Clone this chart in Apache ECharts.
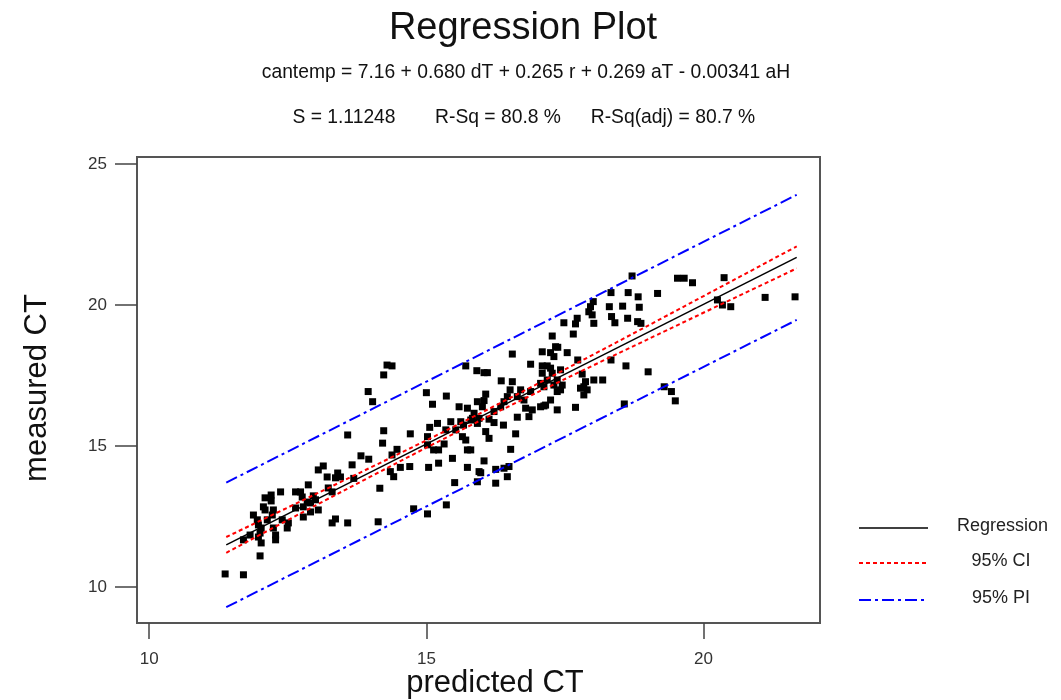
<!DOCTYPE html>
<html>
<head>
<meta charset="utf-8">
<title>Regression Plot</title>
<script src="https://cdn.jsdelivr.net/npm/echarts@6/dist/echarts.min.js"></script>
<style>
  html, body { margin: 0; padding: 0; background: #fff; }
  #chart { width: 1061px; height: 700px; }
</style>
</head>
<body>
<div id="chart"></div>
<script>
// Observed data: predicted vs measured can temperature
const predictedCT = [
  11.37,11.70,12.00,11.70,11.82,11.88,11.95,11.97,12.00,11.97,
  12.02,12.02,12.06,12.09,12.13,12.09,12.20,12.20,12.24,12.22,
  12.24,12.28,12.28,12.37,12.40,12.49,12.51,12.64,12.73,12.76,
  12.64,12.78,12.78,12.85,12.91,12.87,12.91,12.96,13.00,13.05,
  13.05,13.21,13.23,13.30,13.40,13.45,13.36,13.30,13.36,13.58,
  13.14,
  14.29,14.38,14.23,13.95,14.03,15.00,15.36,15.11,15.59,15.74,
  15.92,15.91,15.71,13.58,14.23,14.21,14.71,15.06,15.20,15.44,
  15.62,15.67,15.80,15.95,15.02,15.35,15.53,15.65,15.71,15.74,
  15.80,15.32,15.13,15.22,15.02,14.47,14.38,13.82,13.96,14.53,
  14.70,15.04,15.22,15.47,15.74,15.95,15.51,13.66,13.69,14.35,
  14.41,14.16,
  17.27,17.33,17.09,17.24,16.55,16.88,17.09,17.18,17.24,17.09,
  17.27,16.04,16.10,16.35,16.55,16.51,16.46,16.07,16.04,16.01,
  16.40,16.34,16.22,16.70,16.64,16.88,16.76,17.06,17.12,17.30,
  17.36,17.24,17.15,17.36,16.79,16.91,16.85,16.64,17.06,15.86,
  15.83,15.92,16.13,16.22,16.07,16.13,16.39,16.61,16.52,16.04,
  15.98,16.25,16.40,16.49,16.46,16.25,15.92,
  18.33,18.64,18.82,19.17,18.01,17.96,17.93,17.99,18.30,18.54,
  18.84,18.34,18.40,18.63,18.81,18.87,18.02,17.72,17.69,17.48,
  17.65,17.37,17.54,17.30,17.73,17.42,18.33,18.60,19.00,17.81,
  18.02,18.18,17.87,17.84,17.90,17.84,17.78,17.45,17.42,17.36,
  17.18,17.12,17.69,18.57,
  19.53,19.65,19.80,20.37,20.25,20.34,20.49,21.11,21.65,19.29,
  19.42,19.49,
  18.71,14.77,15.02,15.36,14.13
];
const measuredCT = [
  10.46,10.43,11.10,11.67,11.84,12.55,12.38,12.20,11.91,11.77,
  12.09,11.56,12.84,12.73,12.38,13.16,13.26,13.05,12.73,12.55,
  12.09,11.84,11.67,13.37,12.38,12.09,12.27,13.37,13.37,13.19,
  12.80,12.84,12.48,13.01,12.98,13.62,12.66,13.23,13.09,12.73,
  14.15,13.90,13.51,13.37,14.04,13.90,13.87,12.27,12.41,12.27,
  14.29,
  17.87,17.84,17.52,16.93,16.57,16.89,16.77,16.48,16.39,16.34,
  16.57,17.67,17.84,15.39,15.54,15.10,15.43,15.66,15.80,15.86,
  15.86,15.74,15.92,15.98,15.33,15.57,15.57,15.33,15.21,14.86,
  14.86,15.07,14.86,14.86,15.04,14.88,14.68,14.65,14.53,14.24,
  14.27,14.24,14.39,14.56,14.24,14.09,13.70,14.33,13.85,14.09,
  13.91,13.50,
  18.90,18.52,18.34,18.31,18.26,17.90,17.84,17.84,17.76,17.58,
  17.58,17.60,17.60,17.31,17.28,16.99,16.75,16.84,16.61,16.39,
  16.57,16.39,16.22,16.99,16.75,16.93,16.63,17.22,17.10,17.16,
  16.93,16.63,16.45,16.28,16.34,16.28,16.04,16.02,16.39,16.16,
  15.98,15.80,15.95,15.83,15.51,15.27,15.74,15.43,14.88,14.47,
  14.05,14.17,14.21,14.27,13.91,13.68,13.73,
  20.44,20.44,20.29,20.41,20.12,19.94,19.76,19.65,19.94,19.96,
  19.92,19.59,19.37,19.53,19.41,19.35,19.35,19.53,19.33,19.37,
  18.97,18.50,18.31,18.17,18.05,17.70,18.05,17.84,17.63,17.55,
  17.34,17.34,17.28,17.10,16.99,16.81,17.05,17.16,16.99,17.34,
  17.34,16.42,16.37,16.49,
  20.95,20.95,20.79,20.97,20.18,20.00,19.94,20.27,20.29,17.10,
  16.93,16.60,
  21.03,12.77,12.59,12.91,12.31
];

// Fitted line, 95% confidence band and 95% prediction band
const fitX = [11.39, 21.68];
const fitY = [11.49, 21.69];
const ciX = [11.39, 13, 15, 16, 17, 19, 21.68];
const ciLower = [11.21, 12.89, 14.94, 15.93, 16.90, 18.79, 21.30];
const ciUpper = [11.77, 13.29, 15.20, 16.19, 17.20, 19.27, 22.08];
const piX = [11.39, 21.68];
const piLower = [9.28, 19.47];
const piUpper = [13.70, 23.91];

// Axis ranges and tick labels
const xRange = [9.78, 22.1];
const yRange = [8.72, 25.25];
const xTicks = [10, 15, 20];
const yTicks = [10, 15, 20, 25];

const FONT = '"Liberation Sans", Arial, sans-serif';
const zip = (a, b) => a.map((v, i) => [v, b[i]]);

const chart = echarts.init(document.getElementById('chart'), null, { renderer: 'canvas' });

const ciStyle = { color: '#ff0000', width: 2, type: [4, 3] };
const piStyle = { color: '#0000ff', width: 2, type: [12, 4, 3, 4] };

const legendItems = [
  { y: 528, name: 'Regression', style: { stroke: '#000', lineWidth: 1.5 }, tx: 957, align: 'left' },
  { y: 563, name: '95% CI', style: { stroke: '#ff0000', lineWidth: 2, lineDash: [4, 3] }, tx: 1001, align: 'center' },
  { y: 600, name: '95% PI', style: { stroke: '#0000ff', lineWidth: 2, lineDash: [12, 4, 3, 4] }, tx: 1001, align: 'center' }
];

function text(x, y, str, size, opts) {
  opts = opts || {};
  return {
    type: 'text',
    x: x, y: y,
    rotation: opts.rotation || 0,
    silent: true,
    style: {
      text: str,
      fill: opts.color || '#111',
      font: size + 'px ' + FONT,
      textAlign: opts.align || 'center',
      textVerticalAlign: 'middle',
      align: opts.align || 'center',
      verticalAlign: 'middle'
    }
  };
}

const graphics = [
  text(523, 29, 'Regression Plot', 38),
  text(526, 73, 'cantemp = 7.16 + 0.680 dT + 0.265 r + 0.269 aT - 0.00341 aH', 19.3),
  text(344, 118, 'S = 1.11248', 19.3),
  text(498, 118, 'R-Sq = 80.8 %', 19.3),
  text(673, 118, 'R-Sq(adj) = 80.7 %', 19.3),
  text(495, 683, 'predicted CT', 31),
  text(37, 388, 'measured CT', 31, { rotation: Math.PI / 2 })
];
legendItems.forEach(function (it) {
  graphics.push({
    type: 'line', silent: true,
    shape: { x1: 859, y1: it.y, x2: 928, y2: it.y },
    style: it.style
  });
  graphics.push(text(it.tx, it.y - 2, it.name, 18, { align: it.align, color: '#222' }));
});

chart.setOption({
  animation: false,
  backgroundColor: '#fff',
  grid: {
    left: 137, top: 157, width: 683, height: 466,
    show: true, borderColor: '#555', borderWidth: 2, backgroundColor: 'transparent'
  },
  xAxis: {
    type: 'value', min: xRange[0], max: xRange[1],
    axisLine: { show: true, onZero: false, lineStyle: { color: '#555', width: 2 } },
    axisTick: { show: true, inside: false, length: 16, customValues: xTicks, lineStyle: { color: '#444', width: 1.5 } },
    axisLabel: { customValues: xTicks, margin: 28, fontSize: 17, fontFamily: FONT, color: '#333' },
    splitLine: { show: false }
  },
  yAxis: {
    type: 'value', min: yRange[0], max: yRange[1],
    axisLine: { show: true, onZero: false, lineStyle: { color: '#555', width: 2 } },
    axisTick: { show: true, inside: false, length: 22, customValues: yTicks, lineStyle: { color: '#444', width: 1.5 } },
    axisLabel: { customValues: yTicks, margin: 30, fontSize: 17, fontFamily: FONT, color: '#333' },
    splitLine: { show: false }
  },
  graphic: graphics,
  series: [
    {
      name: 'Observations', type: 'scatter', z: 2,
      symbol: 'rect', symbolSize: 7,
      itemStyle: { color: '#000', opacity: 1 },
      data: zip(predictedCT, measuredCT)
    },
    {
      name: 'Regression', type: 'line', z: 5, showSymbol: false, silent: true,
      lineStyle: { color: '#000', width: 1.5 },
      data: zip(fitX, fitY)
    },
    {
      name: '95% CI upper', type: 'line', z: 4, showSymbol: false, silent: true, smooth: 0.3,
      lineStyle: ciStyle, data: zip(ciX, ciUpper)
    },
    {
      name: '95% CI lower', type: 'line', z: 4, showSymbol: false, silent: true, smooth: 0.3,
      lineStyle: ciStyle, data: zip(ciX, ciLower)
    },
    {
      name: '95% PI upper', type: 'line', z: 4, showSymbol: false, silent: true,
      lineStyle: piStyle, data: zip(piX, piUpper)
    },
    {
      name: '95% PI lower', type: 'line', z: 4, showSymbol: false, silent: true,
      lineStyle: piStyle, data: zip(piX, piLower)
    }
  ]
});
</script>
</body>
</html>
